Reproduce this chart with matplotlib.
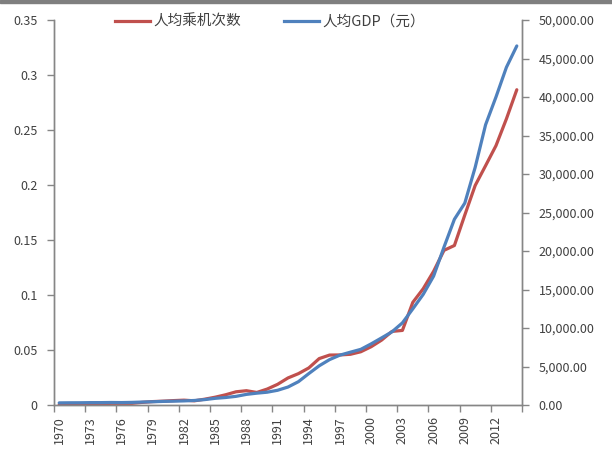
import matplotlib
matplotlib.use("Agg")
import matplotlib.pyplot as plt
from matplotlib.ticker import FuncFormatter, MultipleLocator, FixedLocator
from matplotlib.lines import Line2D
from matplotlib.patches import Rectangle

plt.rcParams['font.family'] = ['Noto Sans CJK SC', 'DejaVu Sans']

years = list(range(1970, 2015))

# per-capita air trips
trips = [0.0003, 0.0005, 0.0008, 0.0010, 0.0012, 0.0015, 0.0015, 0.0015, 0.0024, 0.0031,
         0.0035, 0.0040, 0.0044, 0.0038, 0.0053, 0.0071, 0.0093, 0.0120, 0.0130, 0.0114,
         0.0145, 0.0188, 0.0246, 0.0285, 0.0337, 0.0422, 0.0454, 0.0455, 0.0461, 0.0484,
         0.0530, 0.0590, 0.0669, 0.0678, 0.0933, 0.1057, 0.1215, 0.1406, 0.1450, 0.1727,
         0.1996, 0.2176, 0.2358, 0.2601, 0.2866]

# GDP per capita (yuan)
gdp = [275, 288, 292, 309, 310, 327, 316, 339, 385, 423,
       468, 497, 533, 588, 702, 866, 973, 1123, 1378, 1536,
       1663, 1912, 2334, 3027, 4081, 5091, 5898, 6481, 6860, 7229,
       7942, 8717, 9506, 10666, 12487, 14368, 16738, 20505, 24121, 26222,
       30876, 36403, 40007, 43852, 46629]

RED = "#C0504D"
BLUE = "#4F81BD"
GRAY = "#868686"
TXT = "#404040"

fig = plt.figure(figsize=(6.12, 4.57), dpi=100)
ax = fig.add_axes([54 / 612, 1 - 405 / 457, (522 - 54) / 612, (405 - 20) / 457])
ax2 = ax.twinx()

x = list(range(len(years)))
ax.plot(x, trips, color=RED, linewidth=2.3, solid_capstyle="round")
ax2.plot(x, gdp, color=BLUE, linewidth=2.3, solid_capstyle="round")

ax.set_xlim(-0.5, len(years) - 0.5)
ax.set_ylim(0, 0.35)
ax2.set_ylim(0, 50000)

ax.yaxis.set_major_locator(MultipleLocator(0.05))
ax.yaxis.set_major_formatter(FuncFormatter(lambda v, p: f"{v:.2f}".rstrip("0").rstrip(".") if v else "0"))
ax2.yaxis.set_major_locator(MultipleLocator(5000))
ax2.yaxis.set_major_formatter(FuncFormatter(lambda v, p: f"{v:,.2f}"))

# labels every 3 years, tick marks between categories
ax.xaxis.set_major_locator(FixedLocator(x[::3]))
ax.set_xticklabels([str(y) for y in years[::3]], rotation=90, fontsize=9, color=TXT)
ax.tick_params(axis="x", which="major", length=0, pad=8)
ax.xaxis.set_minor_locator(FixedLocator([i - 0.5 for i in range(0, len(years) + 1, 3)]))
ax.tick_params(axis="x", which="minor", length=5, color=GRAY, width=1)

ax.tick_params(axis="y", length=5, color=GRAY, width=1, pad=7, labelsize=9, labelcolor=TXT)
ax2.tick_params(axis="y", length=5, color=GRAY, width=1, pad=7, labelsize=9, labelcolor=TXT)

for a in (ax, ax2):
    a.spines["top"].set_visible(False)
    for s in ("left", "right", "bottom"):
        a.spines[s].set_color(GRAY)
        a.spines[s].set_linewidth(1)

handles = [Line2D([], [], color=RED, linewidth=2.3),
           Line2D([], [], color=BLUE, linewidth=2.3)]
fig.legend(handles, ["人均乘机次数", "人均GDP（元）"], loc="center",
           bbox_to_anchor=(270 / 612, 1 - 22 / 457), ncol=2, frameon=False,
           fontsize=10.5, handlelength=2.4, handletextpad=0.2, columnspacing=3.0,
           labelcolor=TXT)

fig.patches.append(Rectangle((0, 1 - 3 / 457), 1, 3 / 457, transform=fig.transFigure,
                             color="#7f7f7f", zorder=10))

fig.savefig("out.png", dpi=100)
